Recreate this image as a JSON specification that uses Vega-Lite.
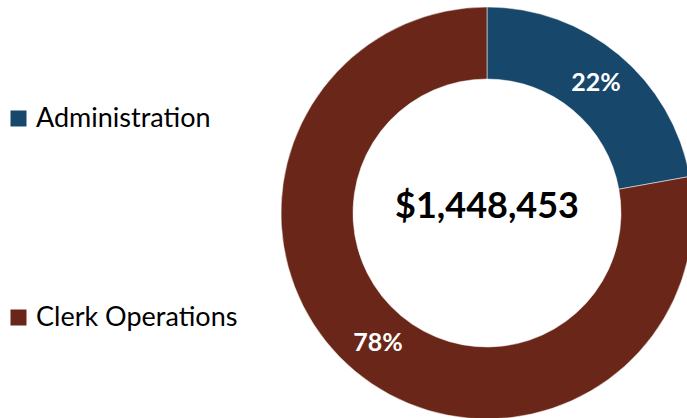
{
  "$schema": "https://vega.github.io/schema/vega-lite/v6.json",
  "width": 412,
  "height": 426,
  "autosize": {"type": "none"},
  "padding": {"left": 281, "top": 0, "right": 0, "bottom": 0},
  "background": "white",
  "config": {"view": {"stroke": null}, "font": "Lato"},
  "data": {
    "values": [
      {"category": "Administration", "amount": 321000, "label": "22%"},
      {"category": "Clerk Operations", "amount": 1127453, "label": "78%"}
    ]
  },
  "layer": [
    {
      "mark": {"type": "arc", "outerRadius": 206, "innerRadius": 134, "stroke": "white", "strokeWidth": 0.5},
      "encoding": {
        "theta": {"field": "amount", "type": "quantitative", "stack": true},
        "color": {
          "field": "category",
          "type": "nominal",
          "scale": {"domain": ["Administration", "Clerk Operations"], "range": ["#17476B", "#6A2719"]},
          "legend": {
            "orient": "none",
            "legendX": -276,
            "legendY": 105,
            "padding": 0,
            "title": null,
            "symbolType": "square",
            "symbolSize": 256,
            "symbolOpacity": 1,
            "symbolStrokeWidth": 0,
            "labelFontSize": 27,
            "labelFont": "Lato",
            "labelColor": "black",
            "labelOffset": 4,
            "rowPadding": 171,
            "labelLimit": 300
          }
        }
      }
    },
    {
      "mark": {"type": "text", "radius": 170, "fontSize": 25, "fontWeight": "bold", "color": "white", "font": "Lato"},
      "encoding": {
        "theta": {"field": "amount", "type": "quantitative", "stack": true},
        "detail": {"field": "category", "type": "nominal"},
        "text": {"field": "label", "type": "nominal"}
      }
    },
    {
      "data": {"values": [{"total": "$1,448,453"}]},
      "mark": {"type": "text", "fontSize": 36, "fontWeight": "bold", "color": "black", "font": "Lato", "dy": -6},
      "encoding": {"text": {"field": "total", "type": "nominal"}}
    }
  ]
}
